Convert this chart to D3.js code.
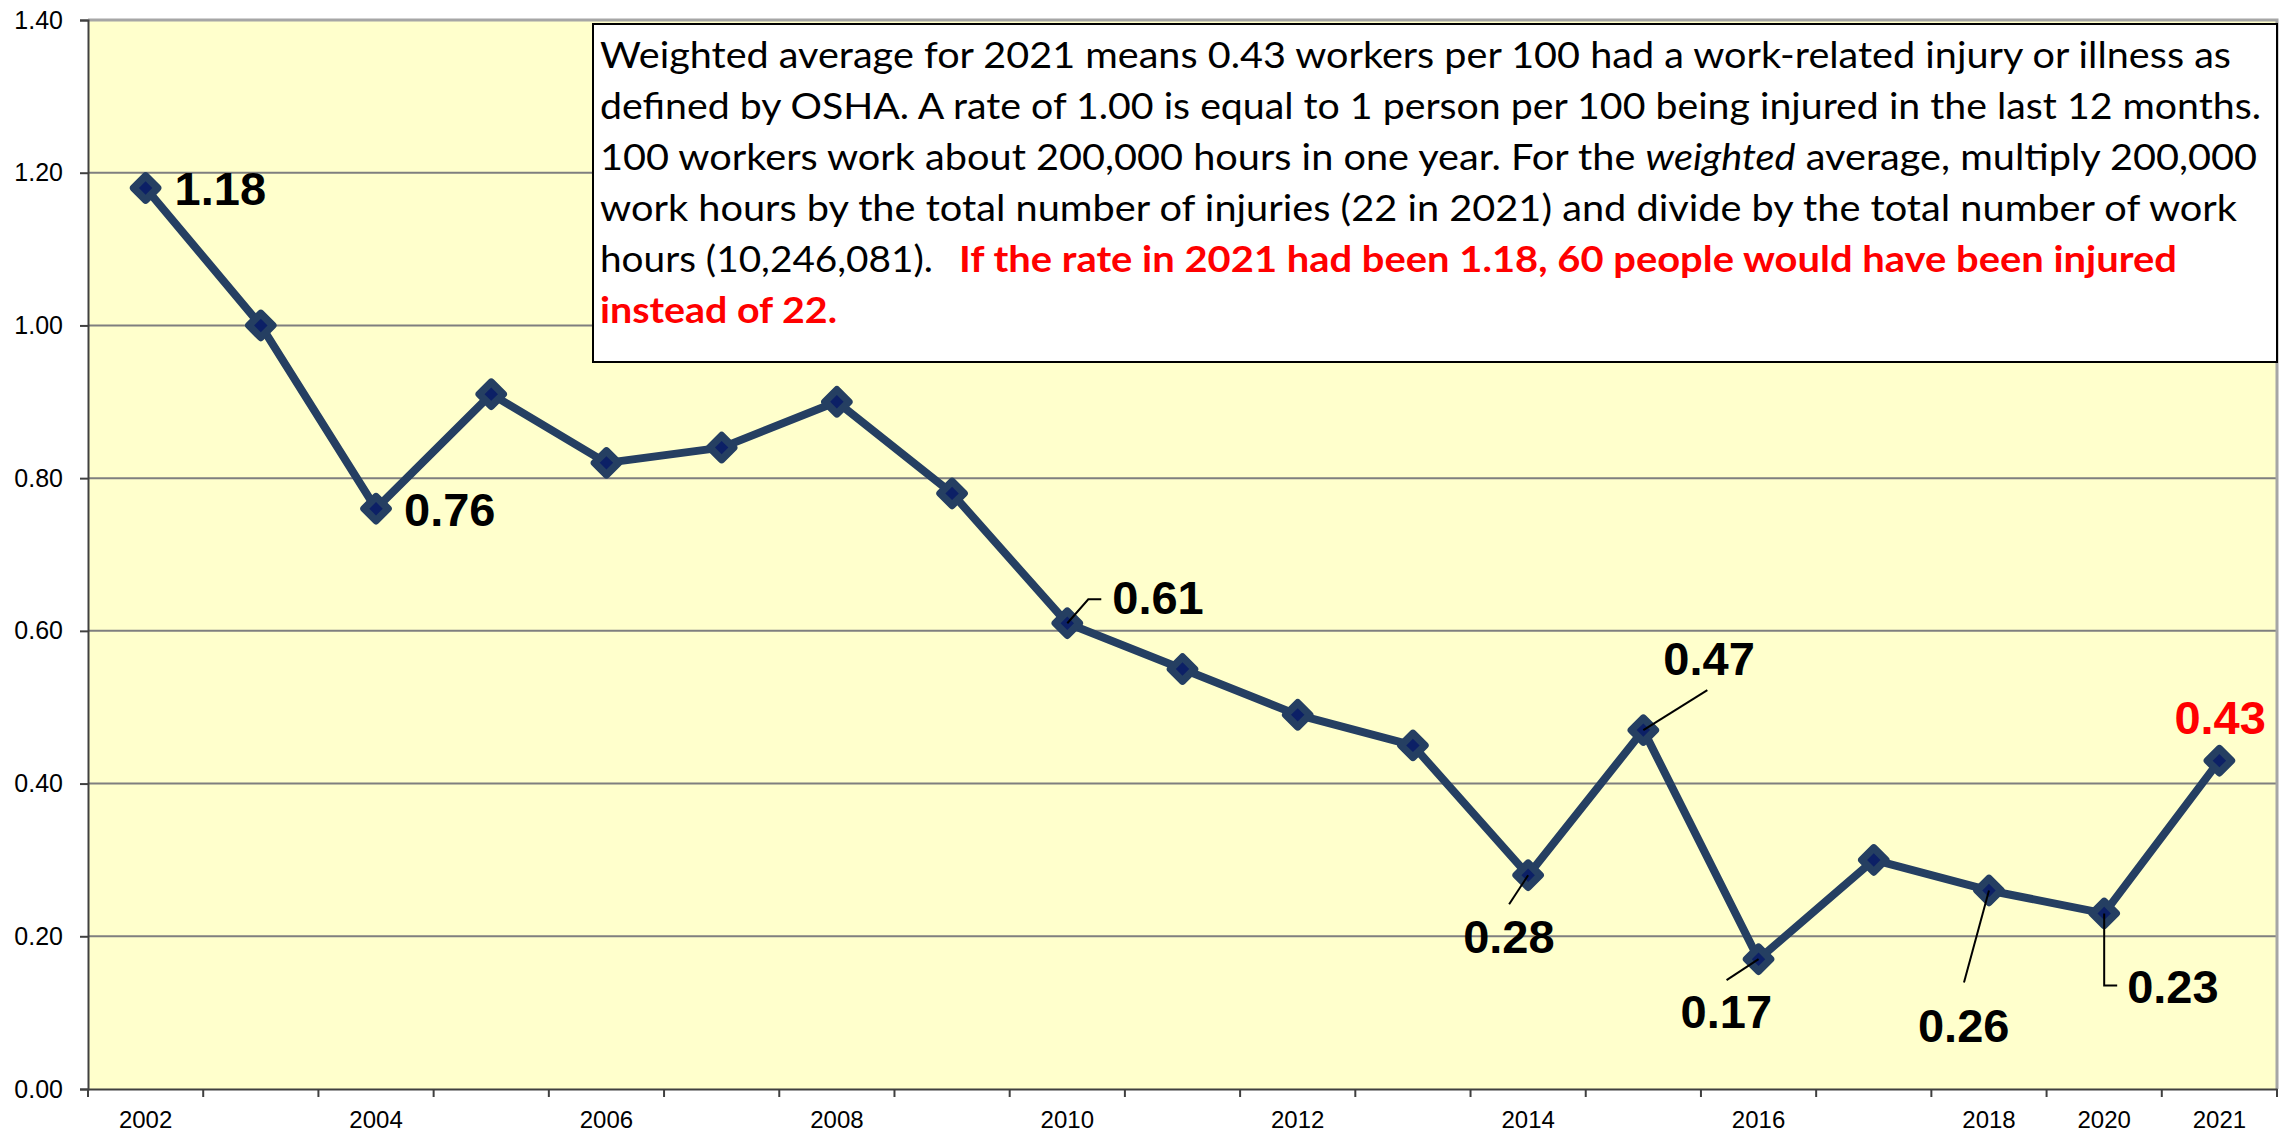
<!DOCTYPE html>
<html>
<head>
<meta charset="utf-8">
<script src="https://cdn.jsdelivr.net/npm/d3@7"></script>
<style>
  body { margin: 0; background: #fff; }
  svg { display: block; }
</style>
</head>
<body>
<svg width="2285" height="1134"></svg>
<script>
// chart data
const years = ["2002", "2003", "2004", "2005", "2006", "2007", "2008", "2009", "2010", "2011",
  "2012", "2013", "2014", "2015", "2016", "2017", "2018", "2020", "2021"];
const rates = [1.18, 1.00, 0.76, 0.91, 0.82, 0.84, 0.90, 0.78, 0.61, 0.55,
  0.49, 0.45, 0.28, 0.47, 0.17, 0.30, 0.26, 0.23, 0.43];
const yTicks = [0, 0.2, 0.4, 0.6, 0.8, 1.0, 1.2, 1.4];
const xTickLabels = ["2002", "2004", "2006", "2008", "2010", "2012", "2014", "2016", "2018", "2020", "2021"];
const labeledYears = ["2002", "2004", "2010", "2014", "2015", "2016", "2018", "2020", "2021"];

// note text, one entry per line; red parts flagged
const noteLines = [
  [["Weighted average for 2021 means 0.43 workers per 100 had a work-related injury or illness as", false]],
  [["defined by OSHA. A rate of 1.00 is equal to 1 person per 100 being injured in the last 12 months.", false]],
  [["100 workers work about 200,000 hours in one year. For the ", false], ["weighted", false, true], [" average, multiply 200,000", false]],
  [["work hours by the total number of injuries (22 in 2021) and divide by the total number of work", false]],
  [["hours (10,246,081).", false], ["If the rate in 2021 had been 1.18, 60 people would have been injured", true]],
  [["instead of 22.", true]]
];

// label placement (offset of text start / baseline from the point) and leader lines
const labelPos = {
  "2002": { dx: 29, dy: 17 },
  "2004": { dx: 28, dy: 17 },
  "2010": { dx: 45, dy: -9, leader: [[0, 0], [21, -24], [34, -24]] },
  "2014": { dx: -65, dy: 78, leader: [[0, 0], [-19, 29]] },
  "2015": { dx: 20, dy: -55, leader: [[0, 0], [64, -40]] },
  "2016": { dx: -78, dy: 69, leader: [[0, 0], [-32, 21]] },
  "2018": { dx: -71, dy: 152, leader: [[0, 0], [-25, 92]] },
  "2020": { dx: 23, dy: 90, leader: [[0, 0], [0, 72], [13, 72]] },
  "2021": { dx: -45, dy: -27, color: "#ff0000" }
};

let svg = d3.select("svg");
let plotLeft = 88, plotRight = 2277, plotTop = 20, plotBottom = 1089;

let xScale = d3.scaleBand().domain(years).range([plotLeft, plotRight]).padding(0);
let yScale = d3.scaleLinear().domain([0, 1.4]).range([plotBottom, plotTop]);

let points = years.map(function(y, i) {
  return { year: y, value: rates[i] };
});

// plot background
svg.append("rect")
  .attr("x", plotLeft)
  .attr("y", plotTop)
  .attr("width", plotRight - plotLeft)
  .attr("height", plotBottom - plotTop)
  .attr("fill", "#ffffcc");

// gridlines
svg.append("g")
  .selectAll("line")
  .data(yTicks.filter(function(d) { return d > 0 && d < 1.4; }))
  .enter()
  .append("line")
  .attr("x1", plotLeft)
  .attr("x2", plotRight)
  .attr("y1", function(d) { return yScale(d); })
  .attr("y2", function(d) { return yScale(d); })
  .attr("stroke", "#7f7f7f")
  .attr("stroke-width", 2);

// top and right border
svg.append("path")
  .attr("d", "M" + plotLeft + "," + plotTop + "H" + plotRight + "V" + plotBottom)
  .attr("fill", "none")
  .attr("stroke", "#a6a6a6")
  .attr("stroke-width", 3);

// y axis
let yAxis = svg.append("g")
  .attr("transform", "translate(" + plotLeft + ",0)")
  .call(d3.axisLeft(yScale).tickValues(yTicks).tickFormat(d3.format(".2f")).tickSize(8).tickPadding(17));
yAxis.selectAll("text")
  .attr("font-family", "Liberation Sans, Arial, sans-serif")
  .attr("font-size", 25)
  .attr("fill", "#000");
yAxis.selectAll("line, path").attr("stroke", "#404040").attr("stroke-width", 2);

// x axis: labels at category centres, ticks at category boundaries
let xAxis = svg.append("g")
  .attr("transform", "translate(0," + plotBottom + ")")
  .call(d3.axisBottom(xScale).tickValues(xTickLabels).tickSize(0).tickPadding(22).tickSizeOuter(0));
xAxis.selectAll("text")
  .attr("font-family", "Liberation Sans, Arial, sans-serif")
  .attr("font-size", 24)
  .attr("fill", "#000");
xAxis.select(".domain").attr("stroke", "#404040").attr("stroke-width", 2);

let boundaries = years.map(function(y) { return xScale(y); }).concat([xScale(years[years.length - 1]) + xScale.bandwidth()]);
xAxis.selectAll(".bound")
  .data(boundaries)
  .enter()
  .append("line")
  .attr("class", "bound")
  .attr("x1", function(d) { return d; })
  .attr("x2", function(d) { return d; })
  .attr("y1", 0)
  .attr("y2", 8)
  .attr("stroke", "#404040")
  .attr("stroke-width", 2);

// the line
let cx = function(d) { return xScale(d.year) + xScale.bandwidth() / 2; };
let cy = function(d) { return yScale(d.value); };

svg.append("path")
  .datum(points)
  .attr("d", d3.line().x(cx).y(cy))
  .attr("fill", "none")
  .attr("stroke", "#253f62")
  .attr("stroke-width", 8)
  .attr("stroke-linejoin", "round");

// diamond markers
svg.append("g")
  .selectAll("path")
  .data(points)
  .enter()
  .append("path")
  .attr("d", d3.symbol(d3.symbolSquare).size(288))
  .attr("transform", function(d) { return "translate(" + cx(d) + "," + cy(d) + ") rotate(45)"; })
  .attr("fill", "#0c2066")
  .attr("stroke", "#253f62")
  .attr("stroke-width", 7.5)
  .attr("stroke-linejoin", "round");

// leader lines
let labeled = points.filter(function(d) { return labeledYears.indexOf(d.year) >= 0; });
svg.append("g")
  .selectAll("path")
  .data(labeled.filter(function(d) { return labelPos[d.year].leader; }))
  .enter()
  .append("path")
  .attr("d", function(d) {
    return d3.line()(labelPos[d.year].leader.map(function(p) { return [cx(d) + p[0], cy(d) + p[1]]; }));
  })
  .attr("fill", "none")
  .attr("stroke", "#000")
  .attr("stroke-width", 2);

// value labels
svg.append("g")
  .selectAll("text")
  .data(labeled)
  .enter()
  .append("text")
  .attr("x", function(d) { return cx(d) + labelPos[d.year].dx; })
  .attr("y", function(d) { return cy(d) + labelPos[d.year].dy; })
  .attr("font-family", "Liberation Sans, Arial, sans-serif")
  .attr("font-weight", "bold")
  .attr("font-size", 47)
  .attr("fill", function(d) { return labelPos[d.year].color || "#000"; })
  .text(function(d) { return d3.format(".2f")(d.value); });

// note box
let box = svg.append("g");
box.append("rect")
  .attr("x", 593)
  .attr("y", 24)
  .attr("width", 2277 - 593)
  .attr("height", 362 - 24)
  .attr("fill", "#fff")
  .attr("stroke", "#000")
  .attr("stroke-width", 2);

// line ends
const lineStarts = [[600], [600], [600], [600], [600, 959], [600]];
const lineEnds = [[2231], [2261], [2257], [2237], [933, 2177], [837]];

noteLines.forEach(function(parts, i) {
  let baseline = 68 + i * 51;
  if (parts.length === 2 && parts[1][1]) {
    // black then red run on the same line
    parts.forEach(function(p, j) {
      box.append("text")
        .attr("x", lineStarts[i][j])
        .attr("y", baseline)
        .attr("font-family", "Lato, sans-serif")
        .attr("font-size", 37)
        .attr("font-weight", p[1] ? "bold" : "normal")
        .attr("fill", p[1] ? "#ff0000" : "#000")
        .attr("textLength", lineEnds[i][j] - lineStarts[i][j])
        .attr("lengthAdjust", "spacingAndGlyphs")
        .text(p[0]);
    });
  } else {
    let t = box.append("text")
      .attr("x", lineStarts[i][0])
      .attr("y", baseline)
      .attr("font-family", "Lato, sans-serif")
      .attr("font-size", 37)
      .attr("textLength", lineEnds[i][0] - lineStarts[i][0])
      .attr("lengthAdjust", "spacingAndGlyphs")
      .attr("xml:space", "preserve");
    parts.forEach(function(p) {
      t.append("tspan")
        .attr("font-weight", p[1] ? "bold" : "normal")
        .attr("font-style", p[2] ? "italic" : "normal")
        .attr("fill", p[1] ? "#ff0000" : "#000")
        .text(p[0]);
    });
  }
});
</script>
</body>
</html>
